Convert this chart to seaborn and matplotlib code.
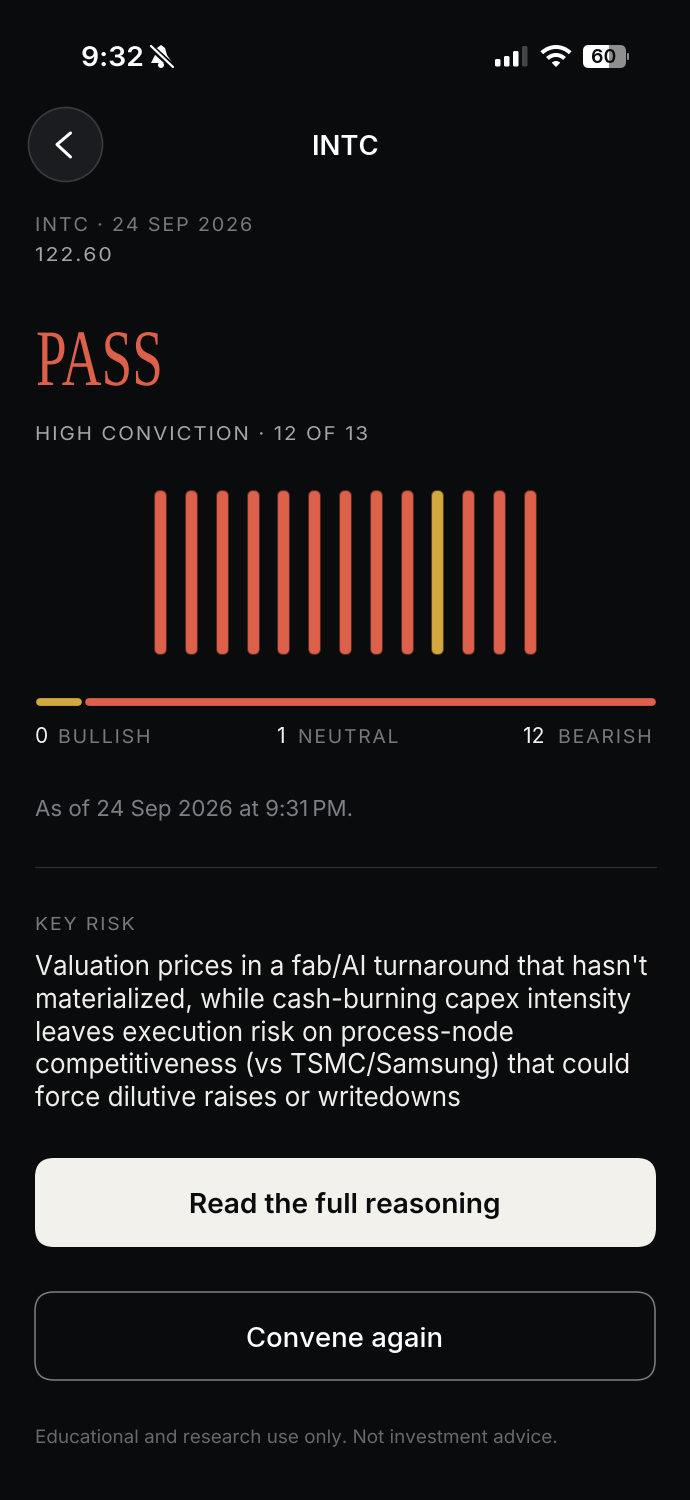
import matplotlib
matplotlib.use('Agg')
import matplotlib.pyplot as plt
import matplotlib.patheffects as pe
from matplotlib.patches import Circle, FancyBboxPatch, Polygon, Wedge, Rectangle
from matplotlib.transforms import Affine2D
import pandas as pd
import seaborn as sns

# data
seats = ['1', '2', '3', '4', '5', '6', '7', '8', '9', '10', '11', '12', '13']
votes = ['bearish', 'bearish', 'bearish', 'bearish', 'bearish', 'bearish', 'bearish',
         'bearish', 'bearish', 'neutral', 'bearish', 'bearish', 'bearish']
heights = [1, 1, 1, 1, 1, 1, 1, 1, 1, 1, 1, 1, 1]
tally_names = ['BULLISH', 'NEUTRAL', 'BEARISH']
tally_counts = [0, 1, 12]
risk_lines = ["Valuation prices in a fab/AI turnaround that hasn't",
              "materialized, while cash-burning capex intensity",
              "leaves execution risk on process-node",
              "competitiveness (vs TSMC/Samsung) that could",
              "force dilutive raises or writedowns"]

BG = '#0a0b0d'
RED = '#dc604a'
YELLOW = '#d3a93f'
tally_colors = {'BULLISH': '#3f9a6a', 'NEUTRAL': YELLOW, 'BEARISH': RED}

sns.set_theme(style='dark')
plt.rcParams['font.family'] = ['Inter', 'Noto Sans', 'DejaVu Sans']

fig = plt.figure(figsize=(6.9, 15), dpi=100, facecolor=BG)

# full page axes in pixels, y going down
page = fig.add_axes([0, 0, 1, 1])
page.set_xlim(0, 690)
page.set_ylim(1500, 0)
page.axis('off')


class StretchX(pe.AbstractPathEffect):
    # squeezes or widens a text along x around its anchor
    def __init__(self, x0, sx):
        super().__init__()
        self.x0 = x0
        self.sx = sx

    def draw_path(self, renderer, gc, tpath, affine, rgbFace=None):
        t = affine + Affine2D().translate(-self.x0, 0).scale(self.sx, 1).translate(self.x0, 0)
        renderer.draw_path(gc, tpath, t, rgbFace)


def spaced(s):
    return '\u200a'.join(s)


def label(x, y, s, px, color, weight='normal', ha='left', family=None, sx=None):
    t = page.text(x, y, s, fontsize=px * 0.72, color=color, weight=weight, ha=ha,
                  va='baseline', family=family)
    if sx is not None:
        t.set_path_effects([StretchX(x, sx)])
    return t


def box(x0, y0, x1, y1, r, fc, ec='none', lw=0):
    page.add_patch(FancyBboxPatch((x0 + r, y0 + r), x1 - x0 - 2 * r, y1 - y0 - 2 * r,
                                  boxstyle=f'round,pad={r},rounding_size={r}',
                                  fc=fc, ec=ec, lw=lw))


# status bar
label(81, 66, '9:32', 27, 'white', weight='semibold', sx=1.05)
page.add_patch(Polygon([(161, 45), (165, 48), (167, 55), (171, 61), (172, 63), (151, 63),
                        (152, 61), (155, 55), (157, 48)], fc='white', ec='none'))
page.add_patch(Circle((161, 65), 3, fc='white', ec='none'))
page.plot([150, 173], [46, 67], color=BG, lw=4.5, solid_capstyle='butt')
page.plot([151, 173], [46, 67], color='white', lw=1.6, solid_capstyle='round')

for bx, top, col in zip([495, 504, 513, 522], [59, 56, 51, 46], ['white', 'white', 'white', '#444548']):
    box(bx, top, bx + 5.5, 66.5, 1.5, col)

page.add_patch(Wedge((556, 67), 6, 225, 315, fc='white', ec='none'))
page.add_patch(Wedge((556, 67), 14, 225, 315, width=4, fc='white', ec='none'))
page.add_patch(Wedge((556, 67), 22, 225, 315, width=4, fc='white', ec='none'))

box(583, 45, 626, 68, 6, '#8f8f8f')
clip = Rectangle((583, 44), 26, 25, transform=page.transData)
white_part = FancyBboxPatch((589, 51), 31, 11, boxstyle='round,pad=6,rounding_size=6', fc='white', ec='none')
page.add_patch(white_part)
white_part.set_clip_path(clip)
box(627, 53, 629, 60, 1, '#8f8f8f')
label(604, 63, '60', 19.5, '#0a0b0d', weight='semibold', ha='center')

# header
page.add_patch(Circle((65.5, 144.5), 37, fc='#1b1c1f', ec='#3a3b3e', lw=1.2))
page.plot([70.5, 57, 70.5], [133, 144.5, 157], color='white', lw=2.2,
          solid_capstyle='round', solid_joinstyle='round')
label(345, 155, 'INTC', 27.5, 'white', weight='semibold', ha='center')

label(35, 231, spaced('INTC · 24 SEP 2026'), 19, '#78797b', sx=1.043)
label(35, 261, spaced('122.60'), 19, '#a6a6a6', sx=1.116)

label(36, 385, 'PASS', 80, RED, family='Liberation Serif', sx=0.69)
label(35, 440, spaced('HIGH CONVICTION · 12 OF 13'), 19, '#a6a6a6', sx=1.08)

# one bar per seat, width comes mostly from the round edge
vote_df = pd.DataFrame({'seat': seats, 'height': heights, 'vote': votes})
bar_ax = fig.add_axes([144.6 / 690, 1 - 649 / 1500, 400.8 / 690, 154 / 1500])
sns.barplot(data=vote_df, x='seat', y='height', hue='vote', order=seats, dodge=False,
            palette={'bearish': RED, 'neutral': YELLOW}, width=0.065, saturation=1,
            legend=False, ax=bar_ax)
bar_ax.set_xlim(-0.5, 12.5)
bar_ax.set_ylim(0, 1)
bar_ax.axis('off')
for p in bar_ax.patches:
    col = p.get_facecolor()
    p.set_edgecolor(col)
    p.set_linewidth(6.4)
    p.set_joinstyle('round')
    p.set_clip_on(False)
    # soft rim round each bar
    p.set_path_effects([pe.Stroke(linewidth=7.8, foreground=col, alpha=0.4), pe.Normal()])

# tally strip, split in proportion to the counts
strip_ax = fig.add_axes([36 / 690, 1 - 706 / 1500, 620 / 690, 8 / 1500])
strip_ax.set_xlim(0, sum(tally_counts))
strip_ax.set_ylim(-1, 1)
strip_ax.axis('off')
left = 0
for name, n in zip(tally_names, tally_counts):
    if n > 0:
        x0 = left + (0.092 if left == 0 else 0.12)
        x1 = left + n - (0.092 if left + n == sum(tally_counts) else 0.12)
        strip_ax.plot([x0, x1], [0, 0], color=tally_colors[name], lw=5.6,
                      solid_capstyle='round', clip_on=False)
    left += n

for cx, wx, n, name, sx in zip([35, 277, 523], [58, 298, 558], tally_counts, tally_names, [1.03, 1.02, 1.03]):
    label(cx, 743, str(n), 21, '#f2f2f2')
    label(wx, 743, spaced(name), 19, '#78797b', sx=sx)

label(35, 816, 'As of 24 Sep 2026 at 9:31\u2009PM.', 22, '#7e7f82', sx=1.013)
page.plot([35, 656], [866.5, 866.5], color='#2b2c2e', lw=1)

label(35, 930, spaced('KEY RISK'), 18, '#78797b', sx=1.087)
for y, line in zip([975, 1008, 1041, 1073, 1106], risk_lines):
    label(35, y, line, 27.5, '#efeeea', sx=0.949)

# buttons
box(35, 1158, 656, 1247, 19, '#f2f1ec')
label(345, 1213, 'Read the full reasoning', 27.5, '#0a0b0d', weight='semibold', ha='center', sx=1.02)
box(35, 1292, 655, 1380, 19, 'none', ec='#7d7e80', lw=1.1)
label(345, 1347, 'Convene again', 27.5, 'white', weight='medium', ha='center')

label(35, 1443, 'Educational and research use only. Not investment advice.', 18.5, '#68696b', sx=1.02)

fig.savefig('out.png', dpi=100, facecolor=BG)
